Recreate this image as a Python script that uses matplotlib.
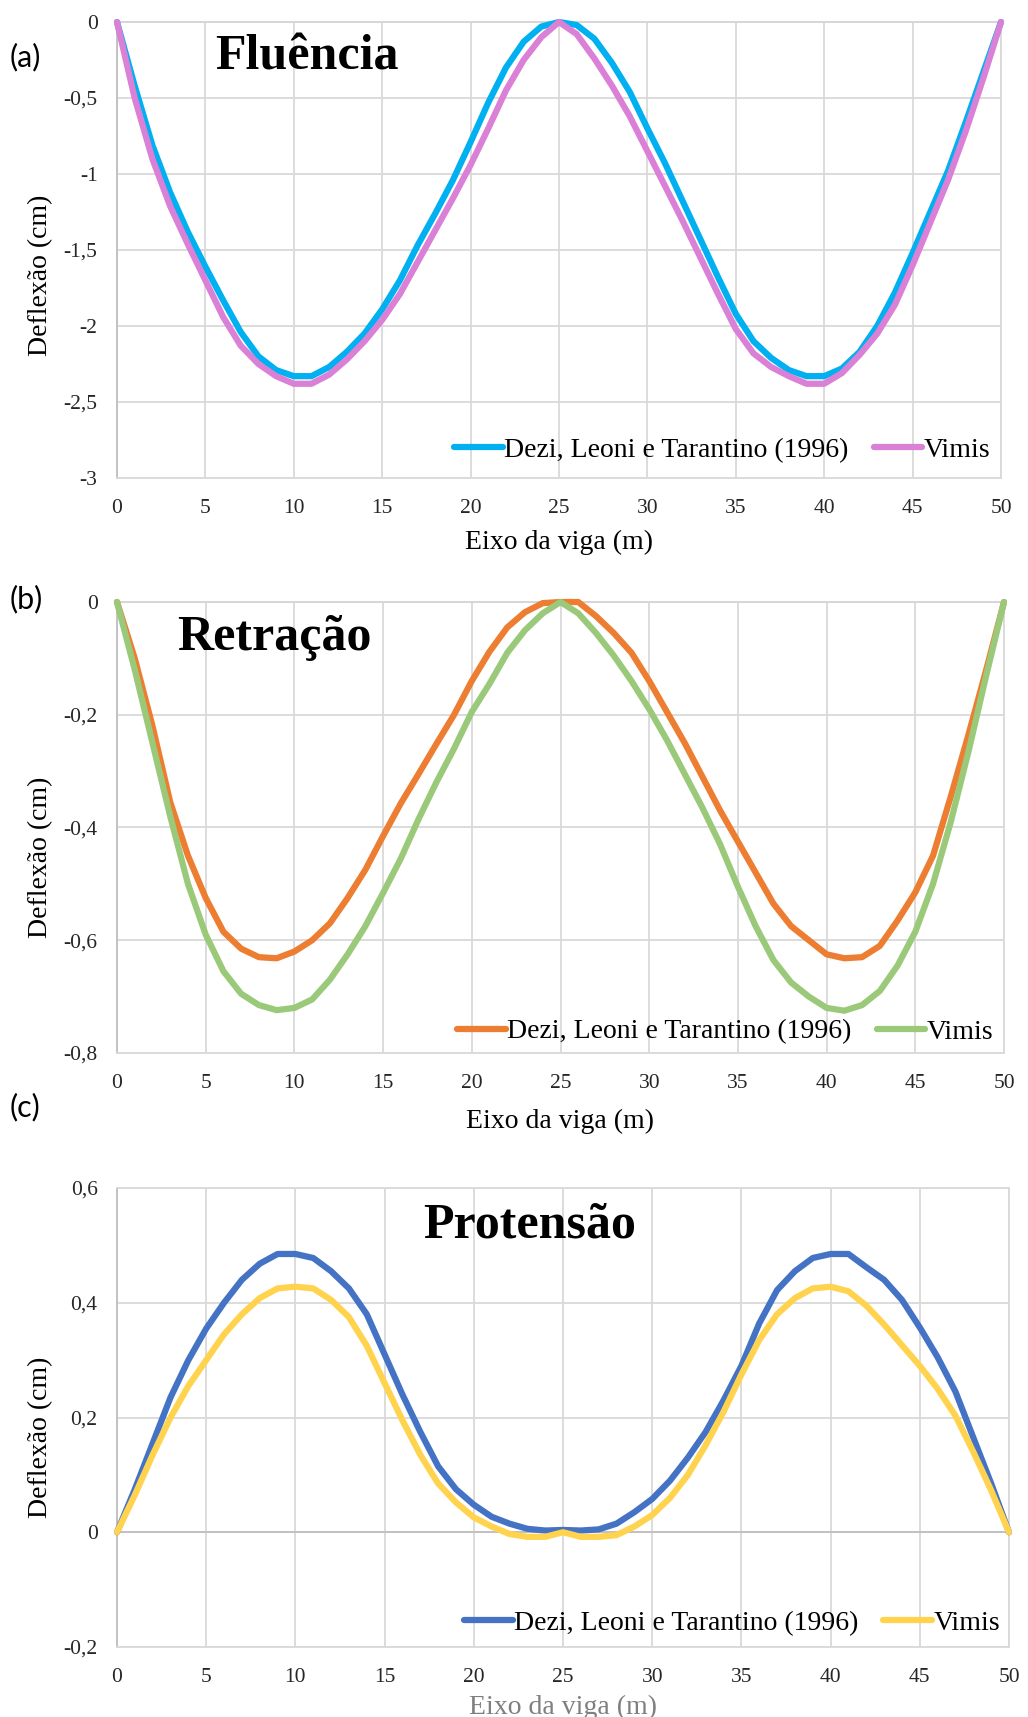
import matplotlib
matplotlib.use("Agg")
import matplotlib.pyplot as plt
from matplotlib.ticker import FuncFormatter

SERIF = ["Liberation Serif", "DejaVu Serif"]
plt.rcParams["font.family"] = SERIF

# Position along the beam (m)
x_m = list(range(0, 51))

# (a) Fluência - deflection (cm)
flu_dezi = [0, -0.42, -0.81, -1.12, -1.38, -1.61, -1.83, -2.04, -2.20, -2.29,
            -2.33, -2.33, -2.27, -2.17, -2.05, -1.89, -1.70, -1.47, -1.26, -1.04,
            -0.79, -0.53, -0.30, -0.13, -0.03, 0.0, -0.02, -0.11, -0.27, -0.46,
            -0.70, -0.93, -1.18, -1.43, -1.68, -1.92, -2.10, -2.21, -2.29, -2.33,
            -2.33, -2.28, -2.17, -2.00, -1.78, -1.52, -1.25, -0.98, -0.66, -0.33, 0]
flu_vimis = [0, -0.50, -0.90, -1.21, -1.46, -1.70, -1.94, -2.13, -2.25, -2.33,
             -2.38, -2.38, -2.32, -2.22, -2.10, -1.96, -1.79, -1.58, -1.37, -1.16,
             -0.94, -0.70, -0.45, -0.25, -0.10, 0.0, -0.08, -0.24, -0.42, -0.62,
             -0.85, -1.08, -1.31, -1.55, -1.79, -2.02, -2.18, -2.27, -2.33, -2.38,
             -2.38, -2.31, -2.19, -2.05, -1.86, -1.60, -1.32, -1.04, -0.72, -0.37, 0]

# (b) Retração - deflection (cm)
ret_dezi = [0, -0.10, -0.22, -0.355, -0.45, -0.525, -0.585, -0.615, -0.63, -0.632,
            -0.62, -0.60, -0.57, -0.525, -0.475, -0.415, -0.357, -0.305, -0.252, -0.20,
            -0.14, -0.088, -0.045, -0.018, -0.002, 0.0, 0.0, -0.025, -0.055, -0.09,
            -0.14, -0.195, -0.25, -0.31, -0.37, -0.425, -0.48, -0.535, -0.575, -0.60,
            -0.625, -0.632, -0.63, -0.61, -0.565, -0.515, -0.45, -0.345, -0.235, -0.12, 0]
ret_vimis = [0, -0.12, -0.25, -0.38, -0.50, -0.59, -0.655, -0.695, -0.715, -0.724,
             -0.72, -0.705, -0.67, -0.625, -0.575, -0.516, -0.455, -0.385, -0.32, -0.26,
             -0.195, -0.145, -0.09, -0.05, -0.02, 0.0, -0.02, -0.055, -0.095, -0.14,
             -0.19, -0.245, -0.305, -0.365, -0.43, -0.505, -0.575, -0.635, -0.675, -0.70,
             -0.72, -0.725, -0.715, -0.69, -0.645, -0.585, -0.50, -0.39, -0.265, -0.13, 0]

# (c) Protensão - deflection (cm)
pro_dezi = [0, 0.075, 0.155, 0.235, 0.30, 0.355, 0.40, 0.44, 0.468, 0.485,
            0.485, 0.478, 0.455, 0.425, 0.38, 0.31, 0.24, 0.175, 0.115, 0.075,
            0.048, 0.027, 0.015, 0.006, 0.003, 0.004, 0.003, 0.005, 0.015, 0.035,
            0.058, 0.09, 0.13, 0.175, 0.23, 0.29, 0.364, 0.422, 0.455, 0.478,
            0.485, 0.485, 0.462, 0.44, 0.405, 0.357, 0.305, 0.245, 0.165, 0.085, 0]
pro_vimis = [0, 0.065, 0.135, 0.20, 0.255, 0.30, 0.345, 0.38, 0.408, 0.425,
             0.428, 0.425, 0.405, 0.375, 0.325, 0.26, 0.195, 0.135, 0.085, 0.052,
             0.026, 0.01, -0.003, -0.008, -0.008, 0.0, -0.008, -0.008, -0.005, 0.01,
             0.03, 0.06, 0.10, 0.152, 0.21, 0.275, 0.335, 0.38, 0.408, 0.425,
             0.428, 0.42, 0.395, 0.362, 0.326, 0.29, 0.25, 0.203, 0.14, 0.073, 0]

x_ticks = [0, 5, 10, 15, 20, 25, 30, 35, 40, 45, 50]
y_ticks_a = [0, -0.5, -1, -1.5, -2, -2.5, -3]
y_ticks_b = [0, -0.2, -0.4, -0.6, -0.8]
y_ticks_c = [0.6, 0.4, 0.2, 0, -0.2]

series_names = ["Dezi, Leoni e Tarantino (1996)", "Vimis"]
titles = ["Fluência", "Retração", "Protensão"]
panel_tags = ["(a)", "(b)", "(c)"]

W, H = 1028, 1717
fig = plt.figure(figsize=(W / 100, H / 100), dpi=100)

comma_fmt = FuncFormatter(lambda v, p: f"{v:g}".replace(".", ","))

panels = [
    dict(box=(117, 22, 1001, 478), y=(flu_dezi, flu_vimis), yt=y_ticks_a,
         ylim=(-3, 0), colors=("#00B0F0", "#DA80D6"),
         title_xy=(0.111, 0.895), leg_xy=(0.988, 0.061), ylab_y=0.445,
         xlab_color="black", xlab_pad=8.5, tag_y=57),
    dict(box=(117, 602, 1004, 1053), y=(ret_dezi, ret_vimis), yt=y_ticks_b,
         ylim=(-0.8, 0), colors=("#ED7D31", "#9BC97A"),
         title_xy=(0.0676, 0.8936), leg_xy=(0.988, 0.047), ylab_y=0.435,
         xlab_color="black", xlab_pad=11.5, tag_y=599),
    dict(box=(117, 1188, 1009, 1647), y=(pro_dezi, pro_vimis), yt=y_ticks_c,
         ylim=(-0.2, 0.6), colors=("#4472C4", "#FFD34E"),
         title_xy=(0.343, 0.893), leg_xy=(0.99, 0.052), ylab_y=0.457,
         xlab_color="#7F7F7F", xlab_pad=5.5, tag_y=1107),
]

for i, p in enumerate(panels):
    x0, y0, x1, y1 = p["box"]
    ax = fig.add_axes([x0 / W, 1 - y1 / H, (x1 - x0) / W, (y1 - y0) / H])
    for ser, col, name in zip(p["y"], p["colors"], series_names):
        ax.plot(x_m, ser, color=col, lw=4.5, label=name,
                solid_joinstyle="round", solid_capstyle="round", zorder=3,
                clip_on=False)
    ax.set_xlim(0, 50)
    ax.set_ylim(*p["ylim"])
    ax.set_xticks(x_ticks)
    ax.set_yticks(p["yt"])
    ax.yaxis.set_major_formatter(comma_fmt)
    ax.grid(True, color="#D9D9D9", lw=1.3)
    ax.set_axisbelow(True)
    for s in ax.spines.values():
        s.set_color("#D9D9D9")
        s.set_linewidth(1.3)
    ax.spines["left"].set_color("#BFBFBF")
    ax.axhline(0, color="#BFBFBF", lw=1.3, zorder=1.5, clip_on=False)
    ax.tick_params(length=0, labelsize=15.5, labelcolor="#262626")
    ax.tick_params(axis="y", pad=14)
    ax.tick_params(axis="x", pad=15)

    ax.set_xlabel("Eixo da viga (m)", fontsize=20,
                  color=p["xlab_color"], labelpad=p["xlab_pad"])
    ax.set_ylabel("Deflexão (cm)", fontsize=20)
    ax.yaxis.set_label_coords(-0.072, p["ylab_y"])

    ax.text(*p["title_xy"], titles[i], transform=ax.transAxes, fontsize=36,
            fontweight="bold", ha="left", va="baseline", zorder=4)

    leg = ax.legend(loc="center right", bbox_to_anchor=p["leg_xy"], ncol=2,
                    frameon=False, prop=dict(size=20),
                    handlelength=1.75, handletextpad=0.05, columnspacing=0.9,
                    borderpad=0, borderaxespad=0)
    leg.set_zorder(5)

    fig.text(10 / W, 1 - p["tag_y"] / H, panel_tags[i], fontsize=22,
             family=["Lato", "DejaVu Sans"], ha="left", va="center")

fig.savefig("out.png", dpi=100, facecolor="white")
